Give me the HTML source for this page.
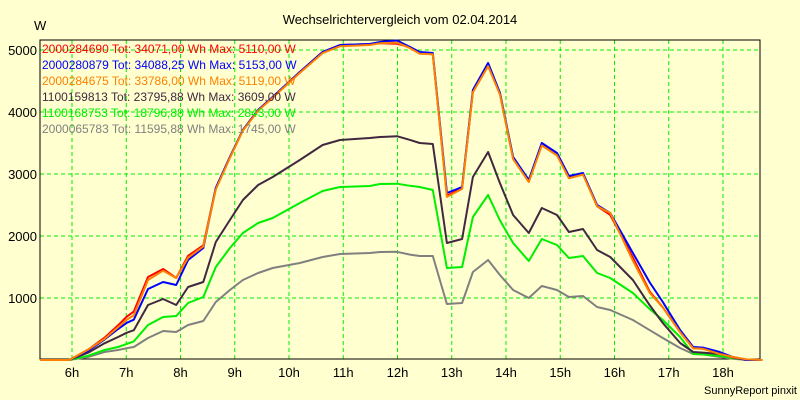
<!DOCTYPE html>
<html><head><meta charset="utf-8"><style>
html,body{margin:0;padding:0;background:#ffffd0;}
svg{display:block;font-family:"Liberation Sans",sans-serif;}
</style></head><body>
<svg id="chart" width="800" height="400" viewBox="0 0 800 400" xmlns="http://www.w3.org/2000/svg">
<rect x="0" y="0" width="800" height="400" fill="#ffffd0"/>
<text x="400" y="24" text-anchor="middle" font-size="13" fill="#000">Wechselrichtervergleich vom 02.04.2014</text>
<text x="34" y="30" font-size="13" fill="#000">W</text>
<g id="grid"></g>
<g id="axes"></g>
<g id="series"></g>
<g id="legend"></g>
<text x="797" y="394" text-anchor="end" font-size="11" fill="#000">SunnyReport pinxit</text>
</svg>
<script>
const times = [5.41,5.95,6.3,6.6,6.85,7.01,7.14,7.4,7.68,7.92,8.14,8.42,8.65,8.91,9.15,9.43,9.7,10.2,10.62,10.94,11.49,11.68,11.99,12.23,12.41,12.65,12.91,13.19,13.39,13.67,13.89,14.13,14.42,14.66,14.94,15.16,15.42,15.68,15.92,16.34,16.65,16.89,17.21,17.45,17.63,17.94,18.18,18.44,18.72];
const seriesBlue = [0,0,150,330,500,600,650,1145,1258,1210,1613,1806,2774,3274,3710,4032,4242,4645,4968,5080,5097,5129,5153,5048,4968,4952,2694,2790,4355,4790,4306,3274,2903,3500,3339,2968,3016,2500,2371,1726,1250,935,484,210,200,129,48,0,0];
const seriesRed = [0,0,170,360,560,700,780,1339,1468,1323,1680,1850,2774,3274,3710,4032,4242,4645,4968,5080,5097,5110,5100,5048,4950,4930,2650,2770,4330,4760,4290,3250,2880,3480,3320,2950,3000,2480,2340,1650,1100,850,450,190,180,110,40,0,0];
const seriesOrange = [0,0,170,340,530,650,720,1290,1440,1323,1650,1830,2750,3260,3700,4020,4230,4630,4950,5060,5080,5110,5119,5030,4940,4930,2630,2760,4320,4740,4280,3240,2870,3460,3300,2930,2990,2480,2371,1600,1081,850,450,190,180,97,48,10,0];
const seriesDark = [0,0,120,270,371,440,480,887,984,887,1177,1258,1903,2258,2580,2823,2952,3226,3468,3548,3580,3597,3609,3550,3500,3484,1887,1952,2952,3355,2850,2339,2048,2452,2339,2065,2113,1774,1661,1290,880,597,274,129,120,97,48,0,0];
const seriesGreen = [0,0,70,161,210,260,300,565,694,710,919,1016,1500,1806,2048,2210,2290,2532,2726,2790,2806,2839,2843,2810,2790,2742,1484,1500,2306,2661,2250,1887,1597,1952,1855,1645,1677,1403,1323,1081,820,645,371,97,90,65,30,0,0];
const seriesGray = [0,0,50,129,161,190,210,355,468,452,565,629,935,1129,1290,1403,1484,1564,1661,1710,1726,1742,1745,1700,1677,1677,903,919,1419,1613,1370,1129,1000,1194,1129,1016,1032,855,806,645,480,355,194,97,90,50,20,0,0];
const yTicks = [1000,2000,3000,4000,5000];
const xTickHours = [6,7,8,9,10,11,12,13,14,15,16,17,18];
const legendLabels = [
 "2000284690 Tot: 34071,00 Wh Max: 5110,00 W",
 "2000280879 Tot: 34088,25 Wh Max: 5153,00 W",
 "2000284675 Tot: 33786,00 Wh Max: 5119,00 W",
 "1100159813 Tot: 23795,88 Wh Max: 3609,00 W",
 "1100168753 Tot: 18796,88 Wh Max: 2843,00 W",
 "2000065783 Tot: 11595,88 Wh Max: 1745,00 W"];

const NS="http://www.w3.org/2000/svg";
const L=40,R=760,T=40,B=359;
function xs(h){return 72+(h-6)*54.25;}
function ys(v){return 360-v*0.062;}
function mk(tag,attrs,parent){const e=document.createElementNS(NS,tag);for(const k in attrs)e.setAttribute(k,attrs[k]);parent.appendChild(e);return e;}
const grid=document.getElementById('grid'),axes=document.getElementById('axes'),sg=document.getElementById('series'),lg=document.getElementById('legend');
mk('rect',{x:L,y:T,width:R-L,height:B-T,fill:'#ffffd0'},grid);
yTicks.forEach(v=>{
 const y=ys(v);
 const l=mk('line',{x1:L,x2:R,y1:y,y2:y,stroke:'#00ee00','stroke-width':1,'stroke-dasharray':'4,3'},grid);
 
 
 const t=mk('text',{x:37,y:y+5,'text-anchor':'end','font-size':13,fill:'#000'},axes);
 t.textContent=v;
 
 
});
xTickHours.forEach(h=>{
 const x=xs(h);
 const l=mk('line',{x1:x,x2:x,y1:T,y2:B,stroke:'#00ee00','stroke-width':1,'stroke-dasharray':'4,3'},grid);
 
 
 const t=mk('text',{x:x,y:377,'text-anchor':'middle','font-size':13,fill:'#000'},axes);
 t.textContent=h+'h';
 
 
});
const frame=mk('rect',{x:L,y:T,width:R-L,height:B-T,fill:'none',stroke:'#000','stroke-width':1},axes);


const defs=[[seriesGray,'#808080','series-2000065783'],[seriesGreen,'#00ee00','series-1100168753'],[seriesDark,'#402840','series-1100159813'],[seriesRed,'#ff0000','series-2000284690'],[seriesBlue,'#0000ff','series-2000280879'],[seriesOrange,'#ff8000','series-2000284675']];
defs.forEach(d=>{
 const pts=times.map((h,i)=>xs(h).toFixed(1)+','+ys(d[0][i]).toFixed(1)).join(' ');
 const p=mk('polyline',{points:pts,fill:'none',stroke:d[1],'stroke-width':2,'stroke-linejoin':'round'},sg);
 
 
});
const lcol=['#ff0000','#0000ff','#ff8000','#402840','#00ee00','#808080'];
legendLabels.forEach((s,i)=>{
 const t=mk('text',{x:42,y:53+i*16,'font-size':12,fill:lcol[i]},lg);
 t.textContent=s;
 
 
});
</script>
</body></html>
